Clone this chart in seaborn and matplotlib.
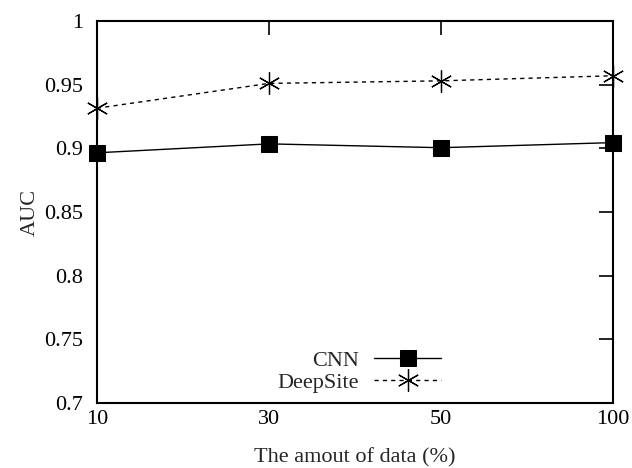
import matplotlib
matplotlib.use("Agg")
import matplotlib.pyplot as plt
import seaborn as sns
import pandas as pd

# Data
data_amount = ["10", "30", "50", "100"]
cnn_auc = [0.8965, 0.9035, 0.9005, 0.9045]
deepsite_auc = [0.9315, 0.951, 0.953, 0.957]
y_ticks = [0.7, 0.75, 0.8, 0.85, 0.9, 0.95, 1.0]
y_tick_labels = ["0.7", "0.75", "0.8", "0.85", "0.9", "0.95", "1"]

sns.set_theme(style="white")
plt.rcParams["font.family"] = ["Liberation Serif", "DejaVu Serif"]
FS = 16
plt.rcParams["font.size"] = FS

df = pd.DataFrame({
    "amount": data_amount * 2,
    "auc": cnn_auc + deepsite_auc,
    "model": ["CNN"] * len(data_amount) + ["DeepSite"] * len(data_amount),
})

W, H = 632, 468
L, R, T, B = 97, 613, 21, 403
fig = plt.figure(figsize=(W / 100, H / 100), dpi=100)
ax = fig.add_axes([L / W, 1 - B / H, (R - L) / W, (B - T) / H])

sns.lineplot(data=df[df.model == "CNN"], x="amount", y="auc", ax=ax, sort=False,
             color="black", linewidth=1.0, marker="s", markersize=11.5,
             markeredgecolor="black", label="CNN", clip_on=False, zorder=5)
sns.lineplot(data=df[df.model == "DeepSite"], x="amount", y="auc", ax=ax, sort=False,
             color="black", linewidth=1.0, marker=(6, 2, 0), markersize=16,
             markeredgecolor="black", markeredgewidth=0.9, label="DeepSite",
             clip_on=False, zorder=5)
ax.lines[1].set_linestyle((0, (3, 3)))

ax.set_xlim(0, len(data_amount) - 1)
ax.set_ylim(0.7, 1.0)
ax.set_yticks(y_ticks)
ax.set_yticklabels(y_tick_labels)
ax.set_xticks(range(len(data_amount)))
ax.set_xticklabels(data_amount)

for s in ax.spines.values():
    s.set_linewidth(1.5)
    s.set_color("black")
ax.tick_params(direction="in", length=10, width=1.2, colors="black",
               top=True, right=True, labelsize=FS)
ax.tick_params(axis="y", pad=10)
ax.tick_params(axis="x", pad=5)
ax.set_xlabel("The amout of data (%)", fontsize=FS)
ax.set_ylabel("AUC", fontsize=FS)
ax.xaxis.set_label_coords(0.5, -(458 - B) / (B - T), transform=ax.transAxes)
ax.yaxis.set_label_coords(-(L - 30) / (R - L), 0.5, transform=ax.transAxes)
ax.xaxis.label.set_va("center")
ax.yaxis.label.set_va("center")
ax.grid(False)

leg = ax.legend(loc="center right", bbox_to_anchor=(452 / W, 1 - 371.5 / H),
                bbox_transform=fig.transFigure, frameon=False, borderpad=0,
                markerfirst=False, handlelength=3.0, handletextpad=0.7,
                labelspacing=0.05, fontsize=FS)
for t in leg.get_texts():
    t.set_ha("right")

fig.savefig("out.png", dpi=100)
